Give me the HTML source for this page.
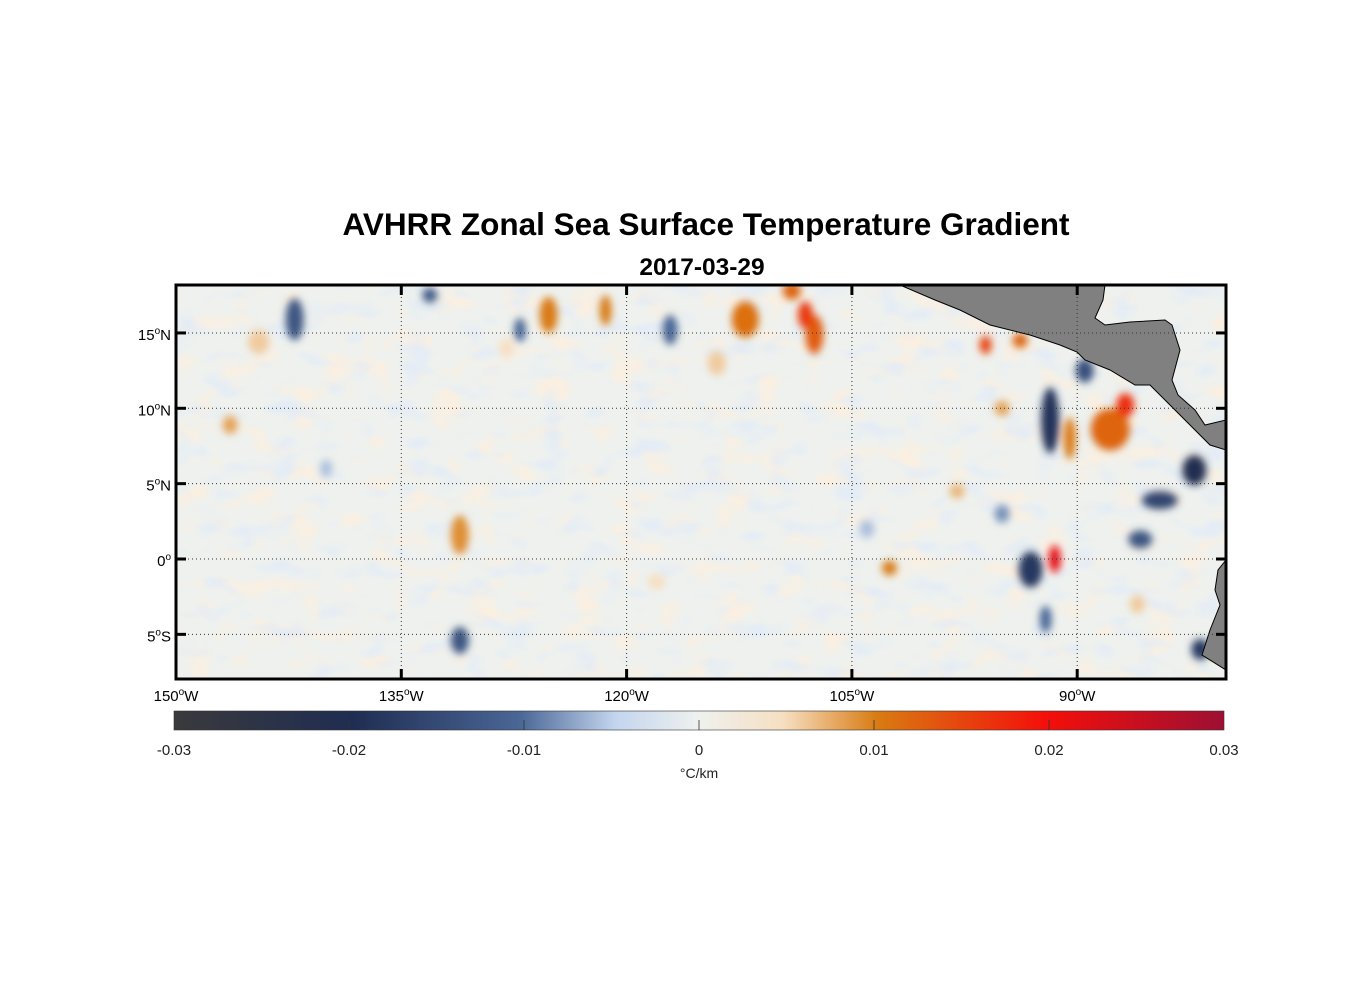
<!DOCTYPE html>
<html><head><meta charset="utf-8">
<style>
body{margin:0;background:#fff;width:1356px;height:1000px;overflow:hidden;font-family:"Liberation Sans",sans-serif;}
svg text{font-family:"Liberation Sans",sans-serif;}
</style></head>
<body>
<svg id="chart" width="1356" height="1000">
<defs>
<clipPath id="mapclip"><rect x="176" y="285" width="1050" height="394"/></clipPath>
<filter id="blur" x="-20%" y="-20%" width="140%" height="140%"><feGaussianBlur stdDeviation="4"/></filter>
<filter id="noiseWarm" x="0" y="0" width="100%" height="100%">
<feTurbulence type="fractalNoise" baseFrequency="0.028 0.045" numOctaves="2" seed="3"/>
<feColorMatrix type="matrix" values="0 0 0 0 0.97  0 0 0 0 0.86  0 0 0 0 0.74  3.5 0 0 0 -1.8"/>
</filter>
<filter id="noiseCool" x="0" y="0" width="100%" height="100%">
<feTurbulence type="fractalNoise" baseFrequency="0.03 0.05" numOctaves="2" seed="11"/>
<feColorMatrix type="matrix" values="0 0 0 0 0.76  0 0 0 0 0.83  0 0 0 0 0.93  -3.5 0 0 0 1.65"/>
</filter>
<linearGradient id="cmap" x1="0" x2="1" y1="0" y2="0">
<stop offset="0" stop-color="#3a3a3c"/>
<stop offset="0.17" stop-color="#1f2d52"/>
<stop offset="0.33" stop-color="#4a6797"/>
<stop offset="0.42" stop-color="#c3d5ee"/>
<stop offset="0.5" stop-color="#eef1ee"/>
<stop offset="0.58" stop-color="#f6dfc2"/>
<stop offset="0.67" stop-color="#d97b12"/>
<stop offset="0.83" stop-color="#f40f0a"/>
<stop offset="1" stop-color="#9e0f33"/>
</linearGradient>
</defs>
<text x="706" y="235" text-anchor="middle" font-size="31.5" font-weight="bold">AVHRR Zonal Sea Surface Temperature Gradient</text>
<text x="702" y="275" text-anchor="middle" font-size="24.5" font-weight="bold">2017-03-29</text>
<g id="map" clip-path="url(#mapclip)">
<rect x="176" y="285" width="1050" height="394" fill="#eef1ee"/>
<rect x="176" y="285" width="1050" height="394" filter="url(#noiseWarm)" opacity="0.9"/>
<rect x="176" y="285" width="1050" height="394" filter="url(#noiseCool)" opacity="0.8"/>
<g id="blobs" filter="url(#blur)"></g>
<polygon fill="#808080" stroke="#000" stroke-width="1" points="900,285 1105,285 1103,300 1095,318 1105,325 1130,322 1165,320 1172,325 1180,350 1172,380 1178,395 1195,410 1205,425 1226,420 1226,450 1210,445 1190,425 1170,405 1150,385 1135,385 1110,370 1085,360 1077,352 1060,345 1030,335 990,325 960,310 935,300"/>
<polygon fill="#808080" stroke="#000" stroke-width="1" points="1226,560 1218,570 1215,590 1220,605 1210,630 1202,655 1226,670"/>
</g>
<g id="grid" stroke="#333" stroke-width="1" stroke-dasharray="1,3" fill="none"></g>
<rect x="176" y="285" width="1050" height="394" fill="none" stroke="#000" stroke-width="3"/>
<g id="ticks"></g>
<rect x="174" y="711" width="1050" height="19" fill="url(#cmap)" stroke="#333" stroke-width="0.6"/>
<g id="cbticks"></g>
<text x="699" y="778" text-anchor="middle" font-size="14" fill="#222">°C/km</text>
</svg>
<script>
const lonTicks=[-150,-135,-120,-105,-90];
const latTicks=[15,10,5,0,-5];
const cbTicks=[-0.03,-0.02,-0.01,0,0.01,0.02,0.03];
const cbLabels=["-0.03","-0.02","-0.01","0","0.01","0.02","0.03"];
const blobLon=[-142.1,-131.1,-131.1,-112.1,-107.5,-108.1,-109,-91.8,-87.8,-86.8,-91.5,-93.1,-82.2,-84.5,-85.8,-81.8,-125.2,-146.4,-102.5,-144.5,-117.1,-133.1,-92.1,-96.1,-93.8,-95,-127.1,-121.4,-89.5,-90.5,-98,-114,-128,-140,-104,-118,-95,-86];
const blobLat=[15.9,1.6,-5.4,15.9,14.9,16.2,17.8,9.2,8.6,10.2,0,-0.7,5.9,3.9,1.3,-6,16.2,8.9,-0.6,14.4,15.2,17.5,-4,14.2,14.5,10,15.2,16.5,12.5,8,4.5,13,14,6,2,-1.5,3,-3];
const blobVal=[-0.013,0.009,-0.013,0.011,0.013,0.016,0.012,-0.019,0.012,0.017,0.022,-0.018,-0.021,-0.016,-0.013,-0.018,0.01,0.008,0.01,0.006,-0.01,-0.012,-0.01,0.015,0.012,0.008,-0.01,0.01,-0.014,0.01,0.007,0.006,0.005,-0.006,-0.006,0.005,-0.008,0.006];
const blobRx=[0.6,0.6,0.6,0.9,0.6,0.5,0.6,0.6,1.3,0.6,0.4,0.8,0.8,1.2,0.8,0.6,0.6,0.5,0.5,0.7,0.5,0.5,0.4,0.4,0.5,0.5,0.4,0.4,0.6,0.4,0.5,0.6,0.5,0.4,0.5,0.6,0.5,0.5];
const blobRy=[1.4,1.3,0.9,1.2,1.3,0.9,0.6,2.2,1.4,0.8,0.9,1.2,1.0,0.6,0.6,0.7,1.2,0.6,0.5,0.8,1.0,0.5,0.9,0.6,0.5,0.5,0.8,1.0,0.8,1.4,0.5,0.8,0.6,0.6,0.6,0.5,0.6,0.6];
const X=lon=>176+(lon+150)*15.02;
const Y=lat=>559-lat*15.07;
const NS="http://www.w3.org/2000/svg";
const stops=[[-0.03,[58,58,60]],[-0.02,[31,45,82]],[-0.01,[74,103,151]],[-0.005,[195,213,238]],[0,[238,241,238]],[0.005,[246,223,194]],[0.01,[217,123,18]],[0.02,[244,15,10]],[0.03,[158,15,51]]];
function color(v){v=Math.max(-0.03,Math.min(0.03,v));for(let i=0;i<stops.length-1;i++){const a=stops[i],b=stops[i+1];if(v<=b[0]){const t=(v-a[0])/(b[0]-a[0]);const c=a[1].map((x,k)=>Math.round(x+(b[1][k]-x)*t));return `rgb(${c})`;}}return "rgb(158,15,51)";}
const bg=document.getElementById('blobs');
blobLon.forEach((lon,i)=>{const e=document.createElementNS(NS,'ellipse');
e.setAttribute('cx',X(lon));e.setAttribute('cy',Y(blobLat[i]));
e.setAttribute('rx',blobRx[i]*15);e.setAttribute('ry',blobRy[i]*15);
e.setAttribute('fill',color(blobVal[i]));


bg.appendChild(e);});
const grid=document.getElementById('grid'),tk=document.getElementById('ticks');
function line(p,x1,y1,x2,y2,attrs){const l=document.createElementNS(NS,'line');l.setAttribute('x1',x1);l.setAttribute('y1',y1);l.setAttribute('x2',x2);l.setAttribute('y2',y2);if(attrs)for(const k in attrs)l.setAttribute(k,attrs[k]);p.appendChild(l);return l;}
function txt(p,x,y,html,anchor,size){const t=document.createElementNS(NS,'text');t.setAttribute('x',x);t.setAttribute('y',y);t.setAttribute('text-anchor',anchor);t.setAttribute('font-size',size);t.innerHTML=html;p.appendChild(t);return t;}
lonTicks.forEach(lon=>{const x=X(lon);
const g=line(grid,x,285,x,679);
const a=line(tk,x,285,x,295,{stroke:'#000','stroke-width':3});
const b=line(tk,x,669,x,679,{stroke:'#000','stroke-width':3});
const t=txt(tk,x,701,Math.abs(lon)+'<tspan dy="-6" font-size="10">o</tspan><tspan dy="6">W</tspan>','middle',15);
});
latTicks.forEach(lat=>{const y=Y(lat);
const g=line(grid,176,y,1226,y);
const a=line(tk,176,y,186,y,{stroke:'#000','stroke-width':3});
const b=line(tk,1216,y,1226,y,{stroke:'#000','stroke-width':3});
const h=lat>0?'N':(lat<0?'S':'');
const t=txt(tk,171,y+7,Math.abs(lat)+'<tspan dy="-6" font-size="10">o</tspan><tspan dy="6">'+h+'</tspan>','end',15);
});
const cb=document.getElementById('cbticks');
const CX=v=>174+(v+0.03)/0.06*1050;
cbTicks.forEach((v,i)=>{const x=CX(v);
if(i>0&&i<cbTicks.length-1){const l=line(cb,x,720,x,730,{stroke:'#333','stroke-width':0.8});}
const t=txt(cb,x,755,cbLabels[i],'middle',15);t.setAttribute('fill','#222');
});
</script>
</body></html>
